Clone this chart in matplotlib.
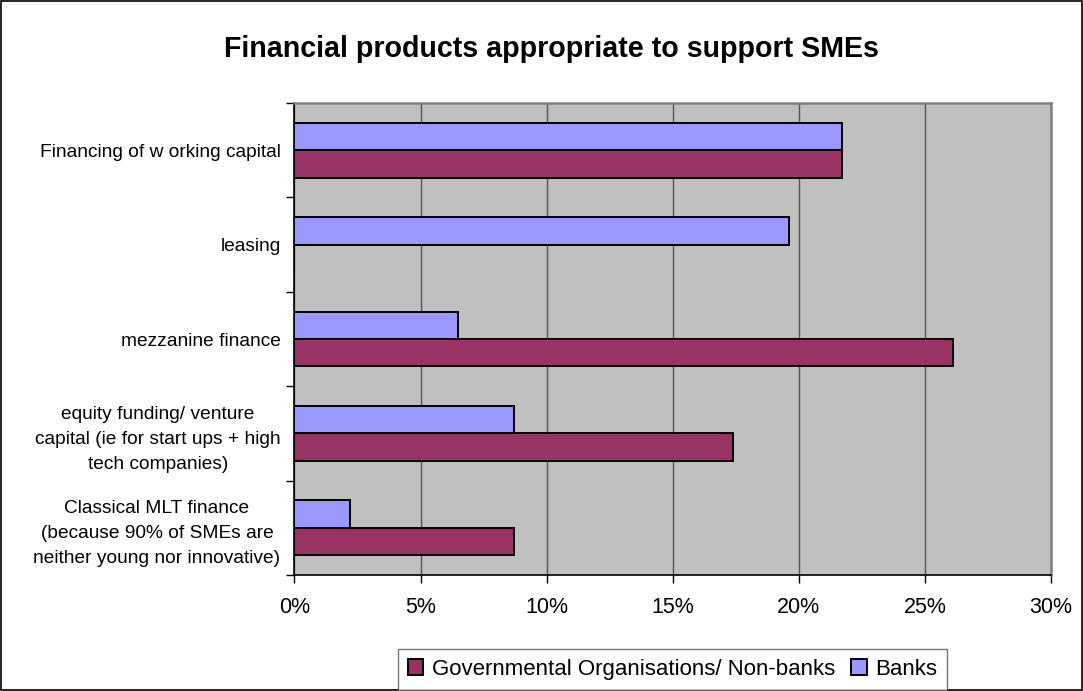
import matplotlib.pyplot as plt
import numpy as np
from matplotlib.patches import Rectangle

plt.rcParams['font.family'] = ['Liberation Sans', 'DejaVu Sans']

categories = [
    'Financing of w orking capital',
    'leasing',
    'mezzanine finance',
    'equity funding/ venture\ncapital (ie for start ups + high\ntech companies)',
    'Classical MLT finance\n(because 90% of SMEs are\nneither young nor innovative)',
]
banks = [21.7, 19.6, 6.5, 8.7, 2.2]
govt = [21.7, 0.0, 26.1, 17.4, 8.7]
series_names = ['Governmental Organisations/ Non-banks', 'Banks']
x_ticks = [0, 5, 10, 15, 20, 25, 30]

fig = plt.figure(figsize=(10.83, 6.91), dpi=100)
fig.patches.append(Rectangle((0.001, 0.001), 0.998, 0.998, transform=fig.transFigure,
                             fill=False, edgecolor='black', linewidth=1.2))

ax = fig.add_axes([0.2719, 0.1679, 0.6985, 0.6830])
ax.set_facecolor('#C0C0C0')

y = np.arange(len(categories))
h = 0.29
ax.barh(y - h / 2, banks, height=h, color='#9999FF', edgecolor='black', linewidth=1.4,
        label=series_names[1], zorder=3)
ax.barh(y + h / 2, govt, height=h, color='#993366', edgecolor='black', linewidth=1.4,
        label=series_names[0], zorder=3)

ax.set_xlim(0, 30)
ax.set_ylim(len(categories) - 0.5, -0.5)
ax.set_xticks(x_ticks)
ax.set_xticklabels([f'{t}%' for t in x_ticks], fontsize=15.5)
ax.tick_params(axis='x', length=6, width=1, pad=10, direction='out')
ax.xaxis.grid(True, color='#555555', linewidth=1, zorder=0)

ax.set_yticks(y)
ax.set_yticklabels(categories, fontsize=13.8)
for lab in ax.get_yticklabels():
    lab.set_multialignment('center')
    lab.set_linespacing(1.6)
ax.tick_params(axis='y', which='major', length=0, pad=10)
ax.set_yticks(np.arange(-0.5, len(categories)), minor=True)
ax.tick_params(axis='y', which='minor', length=6, width=1, direction='out')

for side in ['top', 'right']:
    ax.spines[side].set_color('#808080')
    ax.spines[side].set_linewidth(1.8)
for side in ['left', 'bottom']:
    ax.spines[side].set_color('black')
    ax.spines[side].set_linewidth(1.2)

fig.text(0.509, 0.929, 'Financial products appropriate to support SMEs',
         ha='center', va='center', fontsize=20.6, fontweight='bold')

handles, labels = ax.get_legend_handles_labels()
leg = fig.legend(handles[::-1], labels[::-1], loc='lower center', bbox_to_anchor=(0.621, 0.002),
                 ncol=2, fontsize=16, frameon=True, fancybox=False, edgecolor='#555555',
                 handlelength=0.7, handleheight=0.7, handletextpad=0.4, columnspacing=0.7,
                 borderpad=0.45, borderaxespad=0.0)
leg.get_frame().set_linewidth(1)

fig.savefig('out.png', dpi=100)
